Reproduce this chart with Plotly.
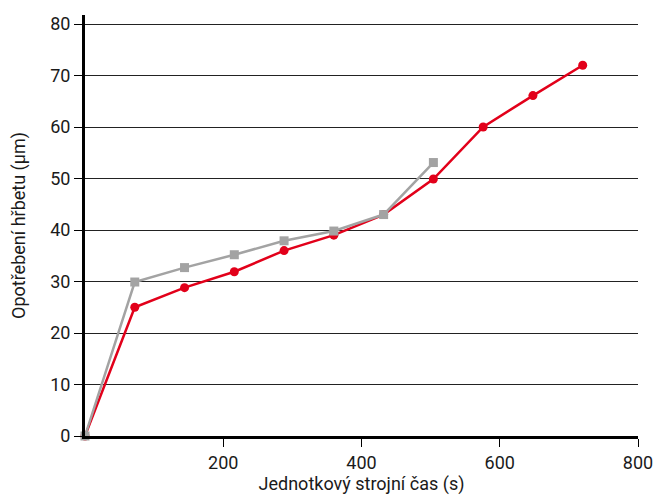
import plotly.graph_objects as go

time_red = [0, 72, 144, 216, 288, 360, 432, 504, 576, 648, 720]
wear_red = [0, 25, 28.8, 31.9, 36, 39, 43, 49.9, 60, 66.1, 72]
time_grey = [0, 72, 144, 216, 288, 360, 432, 504]
wear_grey = [0, 29.9, 32.7, 35.2, 37.9, 39.8, 43, 53.1]

x_ticks = [200, 400, 600, 800]
y_ticks = [0, 10, 20, 30, 40, 50, 60, 70, 80]

RED = "#e2001a"
GREY = "#a3a3a3"
FONT = "Roboto"

fig = go.Figure()
fig.add_trace(go.Scatter(
    x=time_red, y=wear_red, mode="lines+markers",
    line=dict(color=RED, width=2.5),
    marker=dict(symbol="circle", size=9, color=RED),
    showlegend=False, cliponaxis=False,
))
fig.add_trace(go.Scatter(
    x=time_grey, y=wear_grey, mode="lines+markers",
    line=dict(color=GREY, width=2.5),
    marker=dict(symbol="square", size=9, color=GREY),
    showlegend=False, cliponaxis=False,
))

fig.update_layout(
    width=656, height=495,
    margin=dict(l=85, r=18, t=15, b=59),
    paper_bgcolor="white", plot_bgcolor="white",
    font=dict(family=FONT, size=18, color="#1a1a1a"),
    xaxis=dict(
        range=[0, 800], tickvals=x_ticks, ticktext=[str(v) for v in x_ticks],
        showgrid=False, zeroline=False, automargin=False,
        showline=True, linecolor="#000", linewidth=3,
        ticks="outside", ticklen=8, tickwidth=1, tickcolor="#000",
        title=dict(text="Jednotkový strojní čas (s)", standoff=10, font=dict(size=18)),
        tickfont=dict(size=18),
    ),
    yaxis=dict(
        range=[0, 81.75], tickvals=y_ticks, ticktext=[str(v) for v in y_ticks],
        showgrid=True, gridcolor="#222", gridwidth=1,
        zeroline=False, automargin=False,
        showline=True, linecolor="#000", linewidth=3,
        ticks="outside", ticklen=8, tickwidth=1, tickcolor="#000",
        title=dict(text="Opotřebení hřbetu (μm)", standoff=20, font=dict(size=18)),
        tickfont=dict(size=18),
    ),
)

fig.write_html(
    "out.html",
    config={"displayModeBar": False},
    post_script="document.body.style.margin='0';document.body.style.overflow='hidden';",
)
